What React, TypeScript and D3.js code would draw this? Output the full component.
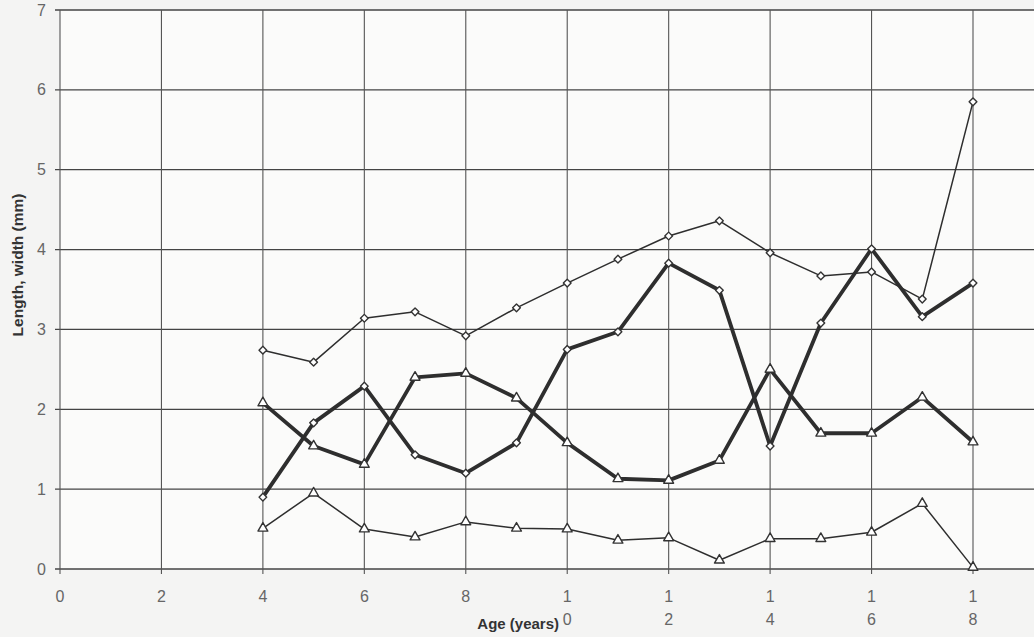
import * as d3 from 'd3';
import React, { useRef, useEffect } from 'react';

const width = 1034;
const height = 637;
const margin = { top: 10, right: -62, bottom: 68, left: 60 };

const ages = [4, 5, 6, 7, 8, 9, 10, 11, 12, 13, 14, 15, 16, 17, 18];
const xTicks = [0, 2, 4, 6, 8, 10, 12, 14, 16, 18];
const yTicks = [0, 1, 2, 3, 4, 5, 6, 7];

// thin line, diamonds
const lengthA = [2.74, 2.59, 3.14, 3.22, 2.92, 3.27, 3.58, 3.88, 4.17, 4.36, 3.96, 3.67, 3.72, 3.38, 5.85];
// thick line, diamonds
const lengthB = [0.9, 1.83, 2.29, 1.43, 1.2, 1.58, 2.75, 2.97, 3.83, 3.49, 1.54, 3.08, 4.01, 3.16, 3.58];
// thick line, triangles
const widthB = [2.08, 1.54, 1.31, 2.4, 2.45, 2.14, 1.58, 1.13, 1.11, 1.36, 2.5, 1.7, 1.7, 2.15, 1.59];
// thin line, triangles
const widthA = [0.51, 0.95, 0.5, 0.4, 0.59, 0.51, 0.5, 0.36, 0.39, 0.11, 0.38, 0.38, 0.46, 0.82, 0.02];

const seriesList = [
  { name: 'lengthA', values: lengthA, thick: false, shape: 'diamond' },
  { name: 'lengthB', values: lengthB, thick: true, shape: 'diamond' },
  { name: 'widthB', values: widthB, thick: true, shape: 'triangle' },
  { name: 'widthA', values: widthA, thick: false, shape: 'triangle' },
];

function App() {
  const ref = useRef<SVGSVGElement>(null);

  useEffect(() => {
    const root = d3.select(ref.current);
    root.selectAll('*').remove();

    const innerW = width - margin.left - margin.right;
    const innerH = height - margin.top - margin.bottom;

    const x = d3.scaleLinear().domain([0, 18]).range([0, 913]);
    const y = d3.scaleLinear().domain([0, 7]).range([innerH, 0]);

    root.append('rect')
      .attr('width', width)
      .attr('height', height)
      .attr('fill', '#f4f4f3');

    const svg = root.append('g')
      .attr('transform', 'translate(' + margin.left + ',' + margin.top + ')');

    svg.append('rect')
      .attr('width', innerW)
      .attr('height', innerH)
      .attr('fill', '#fbfbfa');

    // horizontal grid
    svg.append('g')
      .selectAll('line')
      .data(yTicks)
      .enter()
      .append('line')
      .attr('x1', -5)
      .attr('x2', innerW)
      .attr('y1', d => y(d))
      .attr('y2', d => y(d))
      .attr('stroke', '#444')
      .attr('stroke-width', 1.3);

    // vertical grid
    svg.append('g')
      .selectAll('line')
      .data(xTicks)
      .enter()
      .append('line')
      .attr('x1', d => x(d))
      .attr('x2', d => x(d))
      .attr('y1', 0)
      .attr('y2', innerH + 5)
      .attr('stroke', '#555')
      .attr('stroke-width', 1.1);

    // y tick labels
    svg.append('g')
      .selectAll('text')
      .data(yTicks)
      .enter()
      .append('text')
      .attr('x', -14)
      .attr('y', d => y(d))
      .attr('dy', '0.35em')
      .attr('text-anchor', 'end')
      .attr('fill', '#666')
      .style('font-family', 'Liberation Sans, Arial, sans-serif')
      .style('font-size', '16px')
      .text(d => d);

    // x tick labels, two-digit labels wrap onto two lines
    const xl = svg.append('g')
      .selectAll('text')
      .data(xTicks)
      .enter()
      .append('text')
      .attr('x', d => x(d))
      .attr('y', innerH + 33)
      .attr('text-anchor', 'middle')
      .attr('fill', '#666')
      .style('font-family', 'Liberation Sans, Arial, sans-serif')
      .style('font-size', '16px');
    xl.each(function(d) {
      const s = String(d);
      const t = d3.select(this);
      s.split('').forEach((ch, i) => {
        t.append('tspan')
          .attr('x', x(d))
          .attr('dy', i === 0 ? 0 : 23)
          .text(ch);
      });
    });

    // axis titles
    svg.append('text')
      .attr('x', 559 - margin.left)
      .attr('y', innerH + 60)
      .attr('text-anchor', 'end')
      .attr('fill', '#333')
      .style('font-family', 'Liberation Sans, Arial, sans-serif')
      .style('font-size', '15px')
      .style('font-weight', 'bold')
      .text('Age (years)');

    svg.append('text')
      .attr('transform', 'translate(' + (23 - margin.left) + ',' + (265 - margin.top) + ') rotate(-90)')
      .attr('text-anchor', 'middle')
      .attr('fill', '#333')
      .style('font-family', 'Liberation Sans, Arial, sans-serif')
      .style('font-size', '15.5px')
      .style('font-weight', 'bold')
      .text('Length, width (mm)');

    const line = d3.line<number>()
      .x((d, i) => x(ages[i]))
      .y(d => y(d));

    seriesList.forEach(s => {
      svg.append('path')
        .datum(s.values)
        .attr('fill', 'none')
        .attr('stroke', '#2e2e2e')
        .attr('stroke-width', s.thick ? 3.8 : 1.5)
        .attr('stroke-linejoin', 'round')
        .attr('d', line);

      const isDiamond = s.shape === 'diamond';
      const sym = d3.symbol()
        .type(isDiamond ? d3.symbolSquare : d3.symbolTriangle)
        .size(isDiamond ? 30 : 42);

      svg.append('g')
        .selectAll('path')
        .data(s.values)
        .enter()
        .append('path')
        .attr('transform', (d, i) => 'translate(' + x(ages[i]) + ',' + y(d) + ')' + (isDiamond ? ' rotate(45)' : ''))
        .attr('d', sym())
        .attr('fill', '#fff')
        .attr('stroke', '#333')
        .attr('stroke-width', 1.4)
        .attr('stroke-linejoin', 'round');
    });
  }, []);

  return (
    <svg ref={ref} width={width} height={height}
      style={{ position: 'absolute', left: 0, top: 0 }}>
    </svg>
  );
}

export default App;
